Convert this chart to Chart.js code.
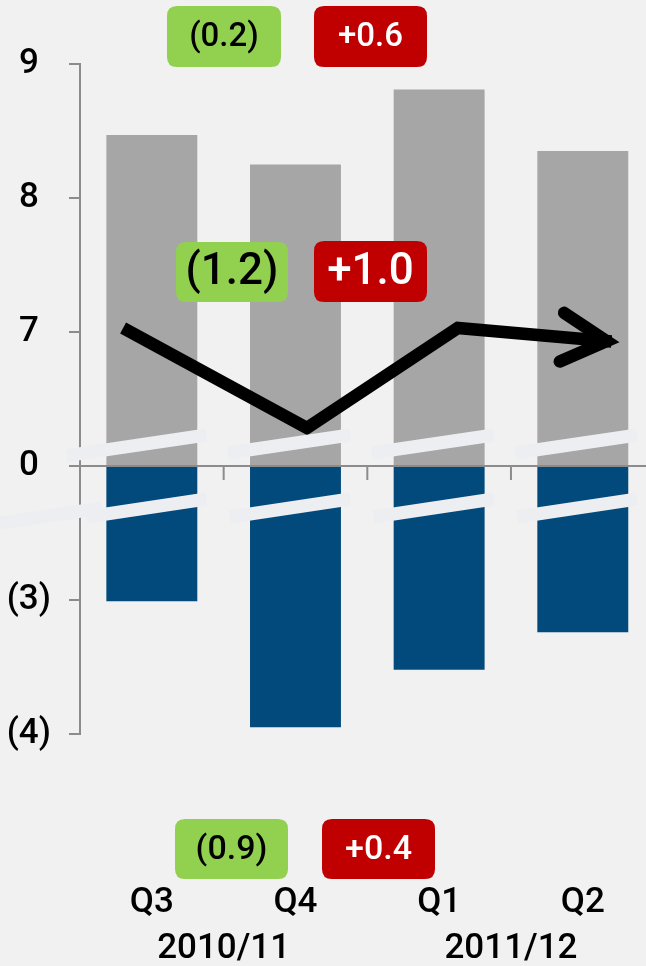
<!DOCTYPE html>
<html>
<head>
<meta charset="utf-8">
<script src="https://cdn.jsdelivr.net/npm/chart.js@4.4.0/dist/chart.umd.min.js"></script>
<style>
    html, body { margin: 0; padding: 0; background: #f1f1f1; }
    #wrap { width: 646px; height: 966px; position: relative; }
</style>
</head>
<body>
<div id="wrap"><canvas id="chart"></canvas></div>
<script>
const quarters = ['Q3', 'Q4', 'Q1', 'Q2'];
const years = ['2010/11', '2011/12'];
const grayValues = [8.47, 8.25, 8.81, 8.35];
const blueValues = [-3.01, -3.95, -3.52, -3.24];
// trend arrow: x in quarter units, y in axis values
const lineX = [-0.2, 1.08, 2.13, 3.2];
const lineValues = [7.03, 1.99, 7.03, 6.5];
const yTickValues = [9, 8, 7, 0, -3, -4];
const yTickLabels = ['9', '8', '7', '0', '(3)', '(4)'];
const topLabels = ['(0.2)', '+0.6'];
const midLabels = ['(1.2)', '+1.0'];
const bottomLabels = ['(0.9)', '+0.4'];

const FONT = 'Roboto';
const WEIGHT = 500;
const AXIS_GREY = '#8c8c8c';
const BAND = '#eceef1';

// broken axis: 7..9 and -3..-4 are linear, 0..7 and 0..-3 are squeezed
function toPlot(v) {
    if (v >= 7) return v - 6;
    if (v >= 0) return v / 7;
    if (v >= -3) return v / 3;
    return v + 2;
}

function roundBox(ctx, x, y, w, h, r) {
    ctx.beginPath();
    ctx.moveTo(x + r, y);
    ctx.lineTo(x + w - r, y);
    ctx.quadraticCurveTo(x + w, y, x + w, y + r);
    ctx.lineTo(x + w, y + h - r);
    ctx.quadraticCurveTo(x + w, y + h, x + w - r, y + h);
    ctx.lineTo(x + r, y + h);
    ctx.quadraticCurveTo(x, y + h, x, y + h - r);
    ctx.lineTo(x, y + r);
    ctx.quadraticCurveTo(x, y, x + r, y);
    ctx.closePath();
}

function drawBand(ctx, x1, y1, x2, y2) {
    ctx.beginPath();
    ctx.moveTo(x1, y1);
    ctx.lineTo(x2, y2);
    ctx.stroke();
}

const decor = {
    id: 'decor',
    afterDatasetsDraw(chart) {
        const { ctx, chartArea, scales: { x, y } } = chart;
        const y0 = y.getPixelForValue(0);
        ctx.save();

        // zero line + quarter separators
        ctx.strokeStyle = AXIS_GREY;
        ctx.lineWidth = 2;
        ctx.beginPath();
        ctx.moveTo(chartArea.left - 11, y0);
        ctx.lineTo(chartArea.right, y0);
        for (let i = 0; i < quarters.length - 1; i++) {
            const px = x.getPixelForValue(i + 0.5);
            ctx.moveTo(px, y0);
            ctx.lineTo(px, y0 + 14);
        }
        ctx.stroke();

        // axis break bands
        ctx.strokeStyle = BAND;
        ctx.lineWidth = 13;
        ctx.lineCap = 'butt';
        const bars = chart.getDatasetMeta(1).data;
        bars.forEach((bar, i) => {
            const L = bar.x - bar.width / 2;
            const R = bar.x + bar.width / 2;
            const slope = -18 / (R + 9 - (L - 22));
            let sx = L - 22;
            let sy = y0 - 13;
            if (i === 0) {
                sy += (sx - (chartArea.left - 13)) * -slope;
                sx = chartArea.left - 13;
            }
            drawBand(ctx, sx, sy, R + 9, y0 - 31);
            drawBand(ctx, L - 20, y0 + 51, R + 9, y0 + 33);
        });
        drawBand(ctx, 0, y0 + 57, chartArea.left + 22, y0 + 42);

        // arrow head at the end of the trend line
        const pts = chart.getDatasetMeta(0).data;
        const p1 = pts[pts.length - 2];
        const p2 = pts[pts.length - 1];
        const ang = Math.atan2(p2.y - p1.y, p2.x - p1.x);
        const tx = p2.x - 5 * Math.cos(ang);
        const ty = p2.y - 5 * Math.sin(ang);
        const back = ang + Math.PI;
        const len = 51;
        const spread = 0.5;
        ctx.strokeStyle = '#000';
        ctx.lineWidth = 12.5;
        ctx.lineCap = 'round';
        ctx.lineJoin = 'miter';
        ctx.beginPath();
        ctx.moveTo(tx + len * Math.cos(back - spread), ty + len * Math.sin(back - spread));
        ctx.lineTo(tx, ty);
        ctx.lineTo(tx + len * Math.cos(back + spread), ty + len * Math.sin(back + spread));
        ctx.stroke();

        // year labels under the quarter pairs
        ctx.fillStyle = '#000';
        ctx.font = `${WEIGHT} 35px "${FONT}"`;
        ctx.textAlign = 'center';
        ctx.textBaseline = 'middle';
        years.forEach((yr, i) => {
            ctx.fillText(yr, x.getPixelForValue(i * 2 + 0.5), 949);
        });

        // change boxes
        const boxes = [
            { text: topLabels[0], x: 167, y: 6, w: 114, h: 61, size: 33, bg: '#92d050', fg: '#000' },
            { text: topLabels[1], x: 314, y: 6, w: 113, h: 61, size: 33, bg: '#c00000', fg: '#fff' },
            { text: midLabels[0], x: 176, y: 242, w: 112, h: 60, size: 44, bg: '#92d050', fg: '#000' },
            { text: midLabels[1], x: 314, y: 241, w: 113, h: 61, size: 44, bg: '#c00000', fg: '#fff' },
            { text: bottomLabels[0], x: 175, y: 819, w: 113, h: 60, size: 34, bg: '#92d050', fg: '#000' },
            { text: bottomLabels[1], x: 322, y: 819, w: 113, h: 60, size: 34, bg: '#c00000', fg: '#fff' }
        ];
        boxes.forEach(b => {
            ctx.fillStyle = b.bg;
            roundBox(ctx, b.x, b.y, b.w, b.h, 10);
            ctx.fill();
            ctx.fillStyle = b.fg;
            ctx.font = `${WEIGHT} ${b.size}px "${FONT}"`;
            ctx.fillText(b.text, b.x + b.w / 2, b.y + b.h / 2 + 1);
        });

        ctx.restore();
    }
};

const ctx = document.getElementById('chart').getContext('2d');

new Chart(ctx, {
    type: 'bar',
    data: {
        datasets: [
            {
                type: 'line',
                data: lineX.map((lx, i) => ({ x: lx, y: toPlot(lineValues[i]) })),
                yAxisID: 'yLine',
                borderColor: '#000',
                borderWidth: 12.5,
                borderJoinStyle: 'miter',
                borderCapStyle: 'butt',
                pointRadius: 0,
                tension: 0,
                order: 0
            },
            {
                data: grayValues.map((v, i) => ({ x: i, y: toPlot(v) })),
                backgroundColor: '#a6a6a6',
                order: 2
            },
            {
                data: blueValues.map((v, i) => ({ x: i, y: toPlot(v) })),
                backgroundColor: '#024a7b',
                order: 2
            }
        ]
    },
    options: {
        responsive: true,
        maintainAspectRatio: false,
        animation: false,
        layout: { padding: { top: 64, left: 0, right: 0, bottom: 0 } },
        categoryPercentage: 1,
        barPercentage: 0.633,
        plugins: {
            legend: { display: false },
            tooltip: { enabled: false }
        },
        scales: {
            x: {
                type: 'linear',
                min: -0.5,
                max: 3.44,
                offset: false,
                stacked: true,
                // tickLength only pushes the labels down, ticks themselves are hidden
                grid: { display: false, drawTicks: true, tickLength: 148 },
                border: { display: false },
                afterBuildTicks: s => { s.ticks = quarters.map((q, i) => ({ value: i })); },
                afterFit: s => { s.height = 232; s.paddingLeft = 0; s.paddingRight = 0; },
                ticks: {
                    callback: v => quarters[v],
                    autoSkip: false,
                    maxRotation: 0,
                    padding: 0,
                    color: '#000',
                    font: { family: FONT, size: 35, weight: WEIGHT }
                }
            },
            y: {
                min: -2,
                max: 3,
                stacked: true,
                afterBuildTicks: s => { s.ticks = yTickValues.map(v => ({ value: toPlot(v) })); },
                afterFit: s => { s.width = 80; },
                grid: { drawOnChartArea: false, tickLength: 11, tickColor: AXIS_GREY, lineWidth: 2 },
                border: { color: AXIS_GREY, width: 2 },
                ticks: {
                    callback: (v, i) => yTickLabels[i],
                    crossAlign: 'center',
                    padding: 18,
                    color: '#000',
                    font: { family: FONT, size: 35, weight: WEIGHT }
                }
            },
            yLine: { display: false, min: -2, max: 3 }
        }
    },
    plugins: [decor]
});
</script>
</body>
</html>
